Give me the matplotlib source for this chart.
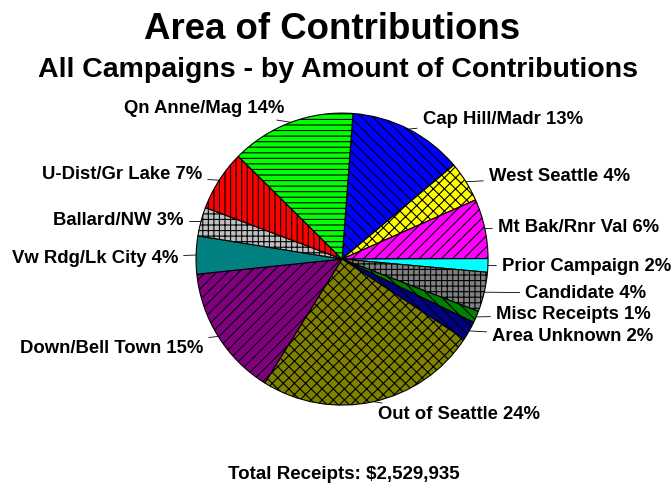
import numpy as np
import matplotlib.pyplot as plt

plt.rcParams['font.family'] = ['Liberation Sans', 'DejaVu Sans']
plt.rcParams['hatch.linewidth'] = 0.8

# share of contributions (%), clockwise from the top
areas = ["Cap Hill/Madr", "West Seattle", "Mt Bak/Rnr Val", "Prior Campaign",
         "Candidate", "Misc Receipts", "Area Unknown", "Out of Seattle",
         "Down/Bell Town", "Vw Rdg/Lk City", "Ballard/NW", "U-Dist/Gr Lake",
         "Qn Anne/Mag"]
shares = [12.7, 4.5, 6.6, 1.5, 4.4, 1.3, 2.1, 24.7, 14.5, 4.2, 3.2, 6.7, 13.8]
pct_labels = [13, 4, 6, 2, 4, 1, 2, 24, 15, 4, 3, 7, 14]
total = "$2,529,935"

colors = ["#0000FF", "#FFFF00", "#FF00FF", "#00FFFF", "#808080", "#008000",
          "#000080", "#808000", "#800080", "#008080", "#C0C0C0", "#FF0000",
          "#00FF00"]
hatches = ["\\\\\\", "xxx", "///", "", "+++", "\\\\\\", "\\\\\\", "xxx", "///",
           "", "+++", "|||", "---"]
# label offset from the wedge edge, in pixels (x right, y down)
label_off = [(14, -10), (23, -5), (13, -1), (14, 1), (41, 1), (20, -2), (23, 6),
             (5, 13), (-15, 12), (-18, 4), (-17, -1), (-17, -6), (-7, -14)]

fig = plt.figure(figsize=(6.72, 4.87), dpi=100)
ax = fig.add_axes([0.509 - 0.2173, 0.468 - 0.2998, 0.4346, 0.5996])

wedges, _ = ax.pie(shares, colors=colors, startangle=85.7, counterclock=False,
                   wedgeprops=dict(edgecolor="black", linewidth=0.8))
for w, h in zip(wedges, hatches):
    w.set_hatch(h)

for w, name, p, (dx, dy) in zip(wedges, areas, pct_labels, label_off):
    mid = np.deg2rad((w.theta1 + w.theta2) / 2)
    cx, cy = np.cos(mid), np.sin(mid)
    ha = "left" if cx > 0 else "right"
    ax.annotate(f"{name} {p}%", xy=(cx, cy), xytext=(dx * 0.72, -dy * 0.72),
                textcoords="offset points", ha=ha, va="center",
                fontsize=13.3, fontweight="bold",
                arrowprops=dict(arrowstyle="-", color="black", lw=0.6,
                                shrinkA=2, shrinkB=0))

ax.set_xlim(-1, 1)
ax.set_ylim(-1, 1)
ax.set_aspect("equal")

fig.text(0.494, 0.94, "Area of Contributions", ha="center", va="center",
         fontsize=26.4, fontweight="bold")
fig.text(0.503, 0.857, "All Campaigns - by Amount of Contributions", ha="center",
         va="center", fontsize=20.5, fontweight="bold")
fig.text(0.511, 0.025, f"Total Receipts: {total}", ha="center", va="center",
         fontsize=13.5, fontweight="bold")

plt.savefig("out.png", dpi=100)
